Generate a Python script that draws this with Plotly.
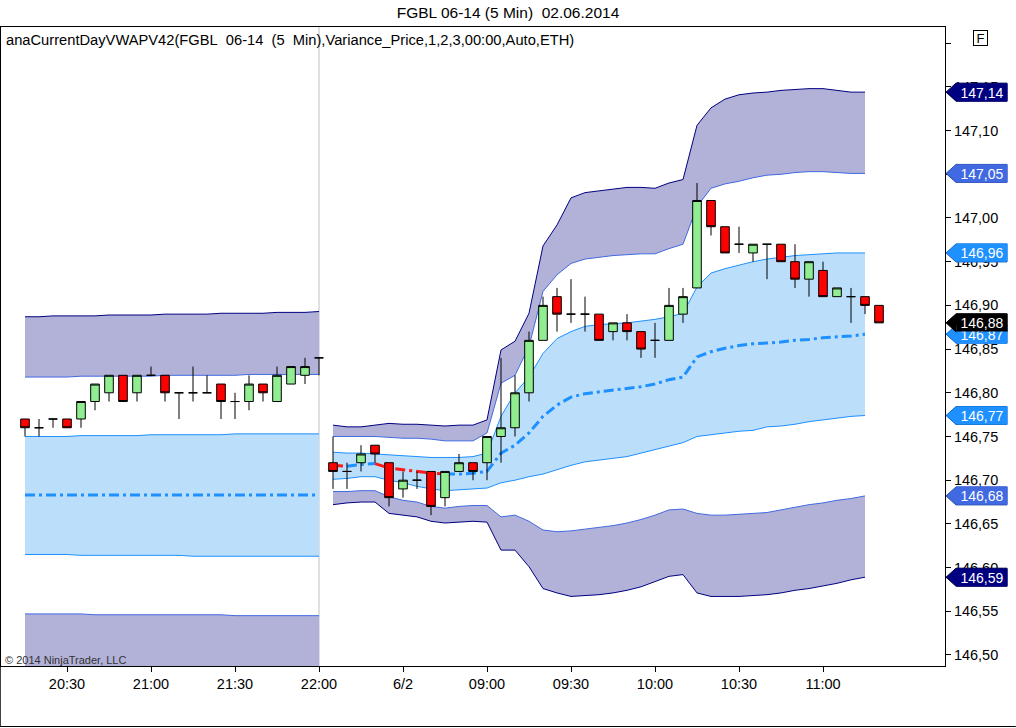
import pandas as pd
import plotly.graph_objects as go

FONT = "Liberation Sans, Arial, sans-serif"

# bar time stamps (5 min bars): end of the previous session, then 02.06.2014
session1 = pd.date_range("2014-05-30 20:15", "2014-05-30 22:00", freq="5min")
session2 = pd.date_range("2014-06-02 08:05", "2014-06-02 11:20", freq="5min")
bar_times = [t.strftime("%H:%M") for t in session1] + [t.strftime("%H:%M") for t in session2]

# OHLC, one value per bar
opens = [146.77, 146.76, 146.77, 146.77, 146.77, 146.79, 146.80, 146.82, 146.80, 146.82,
         146.82, 146.80, 146.80, 146.80, 146.81, 146.79, 146.79, 146.81, 146.79, 146.81,
         146.82, 146.84,
         146.72, 146.71, 146.72, 146.74, 146.72, 146.69, 146.70, 146.71, 146.68, 146.71,
         146.72, 146.72, 146.75, 146.76, 146.80, 146.86, 146.91, 146.89, 146.89, 146.89,
         146.87, 146.88, 146.87, 146.86, 146.86, 146.89, 146.92, 147.02, 146.99, 146.97,
         146.96, 146.97, 146.97, 146.95, 146.93, 146.94, 146.91, 146.91, 146.91, 146.90]
highs = [146.77, 146.77, 146.77, 146.77, 146.79, 146.81, 146.82, 146.82, 146.82, 146.83,
         146.82, 146.80, 146.83, 146.82, 146.81, 146.80, 146.82, 146.81, 146.83, 146.83,
         146.84, 146.84,
         146.75, 146.72, 146.74, 146.74, 146.72, 146.71, 146.71, 146.71, 146.71, 146.73,
         146.72, 146.75, 146.84, 146.82, 146.87, 146.91, 146.92, 146.93, 146.91, 146.89,
         146.88, 146.89, 146.87, 146.88, 146.92, 146.92, 147.04, 147.02, 146.99, 146.99,
         146.97, 146.97, 146.97, 146.97, 146.95, 146.95, 146.92, 146.92, 146.91, 146.90]
lows = [146.75, 146.75, 146.76, 146.76, 146.76, 146.78, 146.79, 146.79, 146.79, 146.82,
        146.79, 146.77, 146.79, 146.80, 146.77, 146.77, 146.78, 146.79, 146.79, 146.81,
        146.81, 146.82,
        146.69, 146.69, 146.71, 146.72, 146.67, 146.68, 146.69, 146.66, 146.67, 146.71,
        146.70, 146.70, 146.72, 146.75, 146.79, 146.86, 146.87, 146.88, 146.87, 146.86,
        146.86, 146.86, 146.84, 146.84, 146.86, 146.88, 146.92, 146.98, 146.96, 146.96,
        146.95, 146.93, 146.95, 146.92, 146.91, 146.91, 146.91, 146.88, 146.89, 146.88]
closes = [146.76, 146.76, 146.77, 146.76, 146.79, 146.81, 146.82, 146.79, 146.82, 146.82,
          146.80, 146.80, 146.80, 146.80, 146.79, 146.79, 146.81, 146.80, 146.82, 146.83,
          146.83, 146.84,
          146.71, 146.71, 146.73, 146.73, 146.68, 146.70, 146.70, 146.67, 146.71, 146.72,
          146.71, 146.75, 146.76, 146.80, 146.86, 146.90, 146.89, 146.89, 146.89, 146.86,
          146.88, 146.87, 146.85, 146.86, 146.90, 146.91, 147.02, 146.99, 146.96, 146.97,
          146.97, 146.97, 146.95, 146.93, 146.95, 146.91, 146.92, 146.91, 146.90, 146.88]

# VWAP and variance bands, previous session (bars 20:15 .. 22:00)
prev_upper3 = [146.887, 146.887, 146.888, 146.888, 146.888, 146.888, 146.889, 146.889,
               146.889, 146.889, 146.890, 146.890, 146.890, 146.890, 146.891, 146.891,
               146.891, 146.891, 146.892, 146.892, 146.892, 146.893]
prev_upper2 = [146.818, 146.818, 146.818, 146.818, 146.819, 146.819, 146.819, 146.819,
               146.819, 146.819, 146.820, 146.820, 146.820, 146.820, 146.820, 146.820,
               146.821, 146.821, 146.821, 146.821, 146.821, 146.821]
prev_upper1 = [146.750, 146.750, 146.750, 146.750, 146.751, 146.751, 146.751, 146.751,
               146.751, 146.752, 146.752, 146.752, 146.752, 146.752, 146.752, 146.753,
               146.753, 146.753, 146.753, 146.753, 146.753, 146.753]
prev_vwap = [146.683, 146.683, 146.683, 146.683, 146.683, 146.683, 146.683, 146.683,
             146.683, 146.683, 146.683, 146.683, 146.683, 146.683, 146.683, 146.683,
             146.683, 146.683, 146.683, 146.683, 146.683, 146.683]
prev_lower1 = [146.615, 146.615, 146.615, 146.615, 146.614, 146.614, 146.614, 146.614,
               146.614, 146.614, 146.614, 146.614, 146.613, 146.613, 146.613, 146.613,
               146.613, 146.613, 146.613, 146.613, 146.613, 146.613]
prev_lower2 = [146.547, 146.547, 146.547, 146.547, 146.547, 146.546, 146.546, 146.546,
               146.546, 146.546, 146.546, 146.546, 146.546, 146.546, 146.546, 146.545,
               146.545, 146.545, 146.545, 146.545, 146.545, 146.545]
prev_lower3 = [146.479, 146.479, 146.478, 146.478, 146.478, 146.478, 146.477, 146.477,
               146.477, 146.477, 146.476, 146.476, 146.476, 146.476, 146.475, 146.475,
               146.475, 146.475, 146.474, 146.474, 146.474, 146.473]

# current session (bars 08:05 .. 11:15, the forming bar has no value yet)
cur_upper3 = [146.763, 146.761, 146.761, 146.763, 146.765, 146.764, 146.764, 146.763,
              146.762, 146.763, 146.763, 146.769, 146.849, 146.859, 146.891, 146.968,
              146.992, 147.023, 147.029, 147.031, 147.033, 147.035, 147.035, 147.034,
              147.040, 147.044, 147.106, 147.126, 147.136, 147.141, 147.143, 147.144,
              147.146, 147.147, 147.148, 147.148, 147.146, 147.144, 147.144]
cur_upper2 = [146.750, 146.750, 146.750, 146.750, 146.749, 146.748, 146.748, 146.747,
              146.745, 146.745, 146.745, 146.754, 146.811, 146.820, 146.853, 146.916,
              146.935, 146.948, 146.953, 146.955, 146.957, 146.958, 146.959, 146.959,
              146.965, 146.970, 147.013, 147.034, 147.039, 147.042, 147.046, 147.049,
              147.050, 147.052, 147.053, 147.053, 147.052, 147.051, 147.051]
cur_upper1 = [146.732, 146.731, 146.731, 146.730, 146.729, 146.728, 146.727, 146.726,
              146.726, 146.726, 146.727, 146.731, 146.773, 146.800, 146.818, 146.845,
              146.862, 146.870, 146.876, 146.878, 146.879, 146.880, 146.882, 146.884,
              146.887, 146.891, 146.921, 146.937, 146.942, 146.946, 146.950, 146.953,
              146.955, 146.957, 146.958, 146.959, 146.960, 146.960, 146.960]
cur_vwap = [146.717, 146.716, 146.718, 146.719, 146.714, 146.712, 146.710, 146.708,
            146.707, 146.707, 146.708, 146.710, 146.731, 146.740, 146.754, 146.773,
            146.786, 146.795, 146.799, 146.801, 146.803, 146.805, 146.807, 146.810,
            146.815, 146.818, 146.841, 146.847, 146.851, 146.854, 146.856, 146.857,
            146.858, 146.860, 146.861, 146.863, 146.864, 146.865, 146.867]
cur_lower1 = [146.701, 146.702, 146.704, 146.704, 146.700, 146.697, 146.693, 146.690,
              146.688, 146.689, 146.690, 146.691, 146.697, 146.700, 146.704, 146.707,
              146.712, 146.717, 146.721, 146.723, 146.725, 146.727, 146.731, 146.735,
              146.739, 146.743, 146.750, 146.752, 146.754, 146.756, 146.757, 146.761,
              146.762, 146.764, 146.767, 146.769, 146.771, 146.773, 146.774]
cur_lower2 = [146.687, 146.687, 146.688, 146.688, 146.681, 146.677, 146.675, 146.670,
              146.668, 146.670, 146.671, 146.671, 146.658, 146.660, 146.653, 146.643,
              146.641, 146.642, 146.644, 146.646, 146.648, 146.651, 146.655, 146.660,
              146.666, 146.667, 146.662, 146.660, 146.660, 146.661, 146.662, 146.663,
              146.666, 146.669, 146.672, 146.674, 146.677, 146.679, 146.682]
cur_lower3 = [146.672, 146.674, 146.675, 146.675, 146.662, 146.660, 146.658, 146.653,
              146.651, 146.652, 146.653, 146.652, 146.620, 146.620, 146.601, 146.576,
              146.571, 146.567, 146.568, 146.569, 146.571, 146.574, 146.578, 146.584,
              146.590, 146.592, 146.571, 146.567, 146.567, 146.567, 146.568, 146.569,
              146.571, 146.574, 146.576, 146.579, 146.582, 146.586, 146.589]

# axis ticks
x_tick_vals = ["20:30", "21:00", "21:30", "22:00", "08:30", "09:00", "09:30", "10:00", "10:30", "11:00"]
x_tick_text = ["20:30", "21:00", "21:30", "22:00", "6/2", "09:00", "09:30", "10:00", "10:30", "11:00"]
y_tick_vals = [146.50, 146.55, 146.60, 146.65, 146.70, 146.75, 146.80, 146.85,
               146.90, 146.95, 147.00, 147.05, 147.10, 147.15, 147.20]
y_tick_text = ["146,50", "146,55", "146,60", "146,65", "146,70", "146,75", "146,80", "146,85",
               "146,90", "146,95", "147,00", "147,05", "147,10", "147,15", ""]

NAVY = "#000080"
ROYAL = "#4169E1"
DODGER = "#1E90FF"
PURPLE_FILL = "#B2B2D8"
BLUE_FILL = "#BBDEFA"

x_prev = bar_times[:22]
x_cur = bar_times[22:22 + len(cur_vwap)]

fig = go.Figure()


def add_band(x, lower, upper, lower_color, upper_color, fill):
    fig.add_trace(go.Scatter(x=x, y=lower, mode="lines", line=dict(color=lower_color, width=1),
                             hoverinfo="skip", showlegend=False))
    fig.add_trace(go.Scatter(x=x, y=upper, mode="lines", line=dict(color=upper_color, width=1),
                             fill="tonexty", fillcolor=fill, hoverinfo="skip", showlegend=False))


def add_vwap(x, values):
    # blue while the VWAP rises or is flat, red while it falls
    blue = [None] * len(values)
    red = [None] * len(values)
    for k in range(len(values) - 1):
        target = red if values[k + 1] < values[k] else blue
        target[k] = values[k]
        target[k + 1] = values[k + 1]
    for ys, color in [(blue, DODGER), (red, "#FF1A1A")]:
        fig.add_trace(go.Scatter(x=x, y=ys, mode="lines", connectgaps=False,
                                 line=dict(color=color, width=3, dash="10px,4px,3px,4px"),
                                 hoverinfo="skip", showlegend=False))


for x, u3, u2, u1, vw, l1, l2, l3 in [
    (x_prev, prev_upper3, prev_upper2, prev_upper1, prev_vwap, prev_lower1, prev_lower2, prev_lower3),
    (x_cur, cur_upper3, cur_upper2, cur_upper1, cur_vwap, cur_lower1, cur_lower2, cur_lower3),
]:
    add_band(x, u2, u3, ROYAL, NAVY, PURPLE_FILL)
    add_band(x, l1, u1, DODGER, DODGER, BLUE_FILL)
    add_band(x, l3, l2, NAVY, ROYAL, PURPLE_FILL)
    add_vwap(x, vw)

# candles on an overlaid axis pair so they sit above the band fills
fig.add_trace(go.Candlestick(
    x=bar_times, open=opens, high=highs, low=lows, close=closes,
    xaxis="x2", yaxis="y2", whiskerwidth=0, hoverinfo="skip", showlegend=False,
    increasing=dict(fillcolor="#90EE90", line=dict(color="black", width=1)),
    decreasing=dict(fillcolor="#FF0000", line=dict(color="black", width=1)),
))

x_range = [-24 / 14, -24 / 14 + 944 / 14]
y_range = [146.4874, 146.4874 + 639 / 874]

fig.update_layout(
    width=1016, height=728,
    margin=dict(l=1, r=71, t=27, b=62),
    paper_bgcolor="white", plot_bgcolor="white",
    separators=",.",
    showlegend=False,
    hovermode=False,
    boxgap=0.12,
    font=dict(family=FONT, size=14, color="black"),
    title=dict(text="FGBL 06-14 (5 Min)\u00a0\u00a002.06.2014", x=0.5, xanchor="center",
               y=1 - 13 / 728, yanchor="middle", font=dict(size=15.5, color="black")),
    xaxis=dict(type="category", categoryorder="array", categoryarray=bar_times,
               range=x_range, tickmode="array", tickvals=x_tick_vals, ticktext=x_tick_text,
               ticks="outside", ticklen=5, tickcolor="black", showline=True, linecolor="black",
               linewidth=1, mirror=True, showgrid=False, zeroline=False,
               rangeslider=dict(visible=False), tickfont=dict(size=14.5)),
    yaxis=dict(side="right", range=y_range, tickmode="array", tickvals=y_tick_vals,
               ticktext=y_tick_text, ticks="outside", ticklen=5, tickcolor="black",
               showline=True, linecolor="black", linewidth=1, mirror=True,
               showgrid=False, zeroline=False, tickfont=dict(size=14.5)),
    xaxis2=dict(type="category", categoryorder="array", categoryarray=bar_times,
                overlaying="x", range=x_range, visible=False, rangeslider=dict(visible=False)),
    yaxis2=dict(overlaying="y", range=y_range, visible=False),
)

# session break
fig.add_shape(type="line", xref="x", yref="paper", x0=bar_times.index("22:00"),
              x1=bar_times.index("22:00"), y0=0, y1=1, layer="below",
              line=dict(color="#C0C0C0", width=1))

# outer frame of the chart window (left and bottom)
fig.add_shape(type="line", xref="paper", yref="paper", x0=-0.0008, x1=-0.0008, y0=0, y1=-61 / 639,
              line=dict(color="black", width=1))
fig.add_shape(type="line", xref="paper", yref="paper", x0=-0.001, x1=1.075, y0=-60.5 / 639,
              y1=-60.5 / 639, line=dict(color="black", width=1))

# price tags on the right axis: last value of every plot, plus the last close
tags = [
    (cur_upper3[-1], NAVY, "#000040"),
    (cur_upper2[-1], ROYAL, "#2A4AA8"),
    (cur_upper1[-1], DODGER, "#1565C0"),
    (cur_vwap[-1], DODGER, "#1565C0"),
    (closes[-1], "black", "black"),
    (cur_lower1[-1], DODGER, "#1565C0"),
    (cur_lower2[-1], ROYAL, "#2A4AA8"),
    (cur_lower3[-1], NAVY, "#000040"),
]
for value, color, edge in tags:
    fig.add_shape(type="path", xref="paper", yref="y", xsizemode="pixel", ysizemode="pixel",
                  xanchor=1, yanchor=value, path="M 1 0 L 11 9 L 62 9 L 62 -9 L 11 -9 Z",
                  fillcolor=color, line=dict(color=edge, width=1), layer="above")
for value, color, edge in tags:
    fig.add_annotation(x=1, xref="paper", xanchor="center", xshift=37, y=value, yref="y",
                       yanchor="middle", text=f"{value:.2f}".replace(".", ","), showarrow=False,
                       bgcolor=color, width=50, height=17, borderpad=0,
                       font=dict(family=FONT, size=14, color="white"))

# indicator label, copyright and the small "F" box
fig.add_annotation(x=3 / 944, xref="paper", xanchor="left", y=(666 - 40) / 639, yref="paper",
                   yanchor="middle", showarrow=False,
                   text="anaCurrentDayVWAPV42(FGBL\u00a0\u00a006-14\u00a0\u00a0(5\u00a0\u00a0Min),"
                        "Variance_Price,1,2,3,00:00,Auto,ETH)",
                   font=dict(family=FONT, size=14.7, color="black"))
fig.add_annotation(x=2 / 944, xref="paper", xanchor="left", y=(666 - 660) / 639, yref="paper",
                   yanchor="middle", showarrow=False, text="\u00a9 2014 NinjaTrader, LLC",
                   font=dict(family=FONT, size=11, color="#333333"))
fig.add_annotation(x=(981 - 1) / 944, xref="paper", xanchor="center", y=(666 - 38) / 639,
                   yref="paper", yanchor="middle", showarrow=False, text="F",
                   bordercolor="black", borderwidth=1, bgcolor="white", width=13, height=14,
                   borderpad=0, font=dict(family=FONT, size=13, color="black"))

# the page body has a default 8px margin; drop it so the chart fills the window
fig.write_html("out.html", config={"displayModeBar": False},
               post_script="document.body.style.margin='0';")
